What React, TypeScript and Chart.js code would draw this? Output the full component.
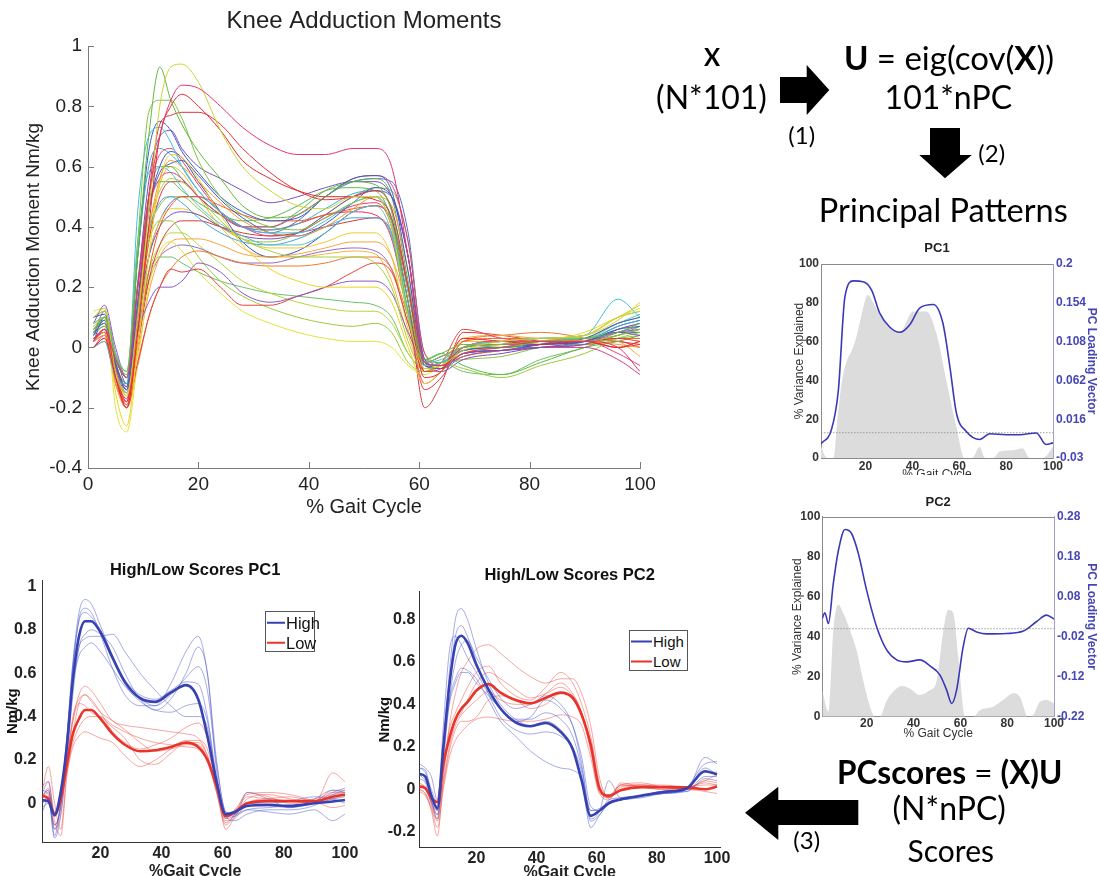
import React, { useEffect, useRef } from "react";
import { Chart, registerables } from "chart.js";

Chart.register(...registerables);
Chart.defaults.font.family = "'Liberation Sans', Arial, Helvetica, sans-serif";
Chart.defaults.color = "#222";

// ---------------- DATA ----------------
// shared % gait-cycle knots for the moment curves
const gaitKnots = [1, 3, 5, 7, 9, 11, 13, 15, 17, 20, 24, 28, 33, 38, 43, 48, 52, 55, 58, 61, 64, 68, 75, 82, 90, 96, 100];

// Knee adduction moment curves (Nm/kg), one row per subject
const kamCurves: number[][] = [
  [0.02, 0.06, -0.04, -0.1, 0.2, 0.5, 0.7, 0.82, 0.87, 0.86, 0.8, 0.73, 0.67, 0.64, 0.64, 0.66, 0.66, 0.6, 0.3, -0.05, -0.06, -0.02, 0.0, 0.02, 0.02, 0.0, -0.08],
  [0.1, 0.13, -0.08, -0.16, 0.1, 0.45, 0.8, 0.93, 0.94, 0.88, 0.72, 0.6, 0.52, 0.47, 0.46, 0.5, 0.5, 0.4, 0.1, -0.07, -0.06, -0.01, 0.02, 0.03, 0.04, 0.1, 0.14],
  [0.05, 0.1, -0.04, -0.09, 0.3, 0.7, 0.93, 0.82, 0.74, 0.65, 0.56, 0.47, 0.43, 0.44, 0.5, 0.55, 0.54, 0.45, 0.15, -0.04, -0.02, 0.01, 0.0, 0.02, 0.03, 0.05, 0.08],
  [0.0, 0.03, -0.1, -0.2, 0.05, 0.4, 0.7, 0.8, 0.84, 0.8, 0.72, 0.62, 0.56, 0.52, 0.5, 0.5, 0.49, 0.43, 0.15, -0.1, -0.08, 0.03, 0.02, 0.01, 0.02, 0.0, 0.02],
  [0.06, 0.1, -0.03, -0.08, 0.35, 0.78, 0.82, 0.82, 0.76, 0.62, 0.5, 0.44, 0.4, 0.39, 0.43, 0.48, 0.5, 0.4, 0.1, -0.05, -0.03, 0.0, 0.01, 0.02, 0.02, 0.04, 0.06],
  [0.03, 0.06, -0.08, -0.18, 0.1, 0.5, 0.74, 0.77, 0.78, 0.78, 0.74, 0.66, 0.58, 0.52, 0.49, 0.5, 0.52, 0.46, 0.2, -0.08, -0.07, 0.0, 0.01, 0.02, 0.02, 0.03, 0.02],
  [0.0, 0.02, -0.1, -0.12, 0.45, 0.7, 0.73, 0.68, 0.6, 0.52, 0.45, 0.4, 0.38, 0.38, 0.42, 0.48, 0.5, 0.42, 0.12, -0.06, -0.05, 0.0, 0.02, 0.03, 0.04, 0.16, 0.1],
  [0.1, 0.11, -0.05, -0.13, 0.3, 0.65, 0.75, 0.72, 0.65, 0.58, 0.5, 0.45, 0.42, 0.43, 0.5, 0.56, 0.57, 0.52, 0.25, -0.05, -0.06, -0.01, 0.0, 0.01, 0.02, 0.06, 0.07],
  [0.05, 0.08, -0.06, -0.14, 0.2, 0.55, 0.7, 0.72, 0.66, 0.6, 0.56, 0.52, 0.48, 0.5, 0.53, 0.55, 0.55, 0.5, 0.3, -0.04, -0.07, -0.02, -0.01, 0.0, 0.02, 0.05, 0.04],
  [0.02, 0.05, -0.08, -0.16, 0.08, 0.38, 0.56, 0.62, 0.6, 0.55, 0.48, 0.42, 0.38, 0.37, 0.4, 0.46, 0.5, 0.47, 0.25, -0.05, -0.06, 0.0, 0.02, 0.03, 0.02, 0.01, 0.0],
  [0.07, 0.1, -0.15, -0.26, 0.0, 0.3, 0.55, 0.64, 0.63, 0.56, 0.44, 0.34, 0.26, 0.22, 0.2, 0.2, 0.2, 0.15, 0.0, -0.12, -0.08, -0.02, 0.0, 0.02, 0.05, 0.1, 0.12],
  [0.02, 0.06, -0.07, -0.13, 0.2, 0.46, 0.56, 0.58, 0.56, 0.5, 0.44, 0.4, 0.4, 0.44, 0.5, 0.56, 0.57, 0.54, 0.35, -0.02, -0.06, -0.03, -0.01, 0.0, 0.0, -0.04, -0.09],
  [0.04, 0.09, -0.06, -0.14, 0.15, 0.45, 0.58, 0.61, 0.62, 0.57, 0.49, 0.43, 0.38, 0.37, 0.41, 0.48, 0.53, 0.5, 0.3, -0.06, -0.07, -0.02, -0.01, 0.01, 0.03, 0.08, 0.1],
  [0.08, 0.1, -0.02, -0.08, 0.35, 0.58, 0.6, 0.58, 0.53, 0.47, 0.41, 0.37, 0.34, 0.34, 0.38, 0.45, 0.47, 0.38, 0.1, -0.05, -0.04, 0.0, 0.02, 0.03, 0.03, 0.08, 0.11],
  [0.05, 0.08, -0.08, -0.15, 0.1, 0.4, 0.52, 0.56, 0.55, 0.5, 0.42, 0.36, 0.32, 0.3, 0.3, 0.3, 0.28, 0.2, 0.02, -0.08, -0.06, -0.02, 0.0, 0.02, 0.03, 0.08, 0.1],
  [0.0, 0.03, -0.1, -0.18, 0.02, 0.25, 0.4, 0.47, 0.5, 0.5, 0.47, 0.44, 0.42, 0.42, 0.44, 0.46, 0.47, 0.42, 0.2, -0.06, -0.07, 0.02, 0.03, 0.03, 0.02, 0.03, 0.03],
  [0.06, 0.09, -0.04, -0.1, 0.22, 0.48, 0.55, 0.55, 0.52, 0.48, 0.44, 0.42, 0.43, 0.47, 0.52, 0.53, 0.52, 0.42, 0.12, -0.04, -0.02, -0.06, -0.09, -0.05, 0.0, 0.02, 0.04],
  [0.08, 0.14, 0.0, -0.1, 0.05, 0.15, 0.2, 0.2, 0.22, 0.28, 0.25, 0.18, 0.15, 0.17, 0.2, 0.22, 0.22, 0.18, 0.05, -0.05, -0.03, 0.0, 0.01, 0.01, 0.02, 0.05, 0.06],
  [0.03, 0.05, -0.1, -0.2, -0.05, 0.1, 0.2, 0.26, 0.25, 0.26, 0.2, 0.14, 0.14, 0.17, 0.2, 0.25, 0.28, 0.25, 0.08, -0.08, -0.05, 0.06, 0.03, 0.02, 0.02, 0.0, 0.01],
  [0.1, 0.12, -0.02, -0.08, 0.15, 0.35, 0.42, 0.42, 0.38, 0.3, 0.22, 0.17, 0.13, 0.1, 0.08, 0.07, 0.08, 0.05, -0.05, -0.08, -0.05, -0.07, -0.1, -0.06, -0.02, 0.03, 0.05],
  [0.12, 0.13, -0.2, -0.28, -0.05, 0.2, 0.32, 0.35, 0.32, 0.25, 0.18, 0.12, 0.08, 0.05, 0.03, 0.02, 0.02, 0.0, -0.06, -0.09, -0.06, -0.03, -0.01, 0.02, 0.04, 0.1, 0.13],
  [0.04, 0.12, -0.02, -0.12, 0.1, 0.3, 0.4, 0.44, 0.45, 0.44, 0.4, 0.37, 0.36, 0.38, 0.44, 0.5, 0.52, 0.5, 0.3, -0.05, -0.08, -0.04, -0.02, 0.0, 0.01, 0.06, 0.08],
  [0.02, 0.04, -0.12, -0.2, -0.02, 0.18, 0.3, 0.35, 0.36, 0.36, 0.34, 0.31, 0.3, 0.31, 0.33, 0.35, 0.35, 0.3, 0.12, -0.06, -0.05, 0.03, 0.04, 0.03, 0.03, 0.02, -0.03],
  [0.03, 0.05, -0.1, -0.15, 0.12, 0.38, 0.48, 0.5, 0.48, 0.43, 0.38, 0.35, 0.34, 0.36, 0.4, 0.43, 0.43, 0.37, 0.12, -0.06, -0.05, -0.01, 0.0, 0.0, 0.02, 0.07, 0.09],
  [0.0, 0.04, -0.12, -0.18, 0.15, 0.5, 0.64, 0.66, 0.62, 0.54, 0.45, 0.4, 0.37, 0.38, 0.43, 0.47, 0.48, 0.4, 0.1, -0.12, -0.08, 0.0, 0.02, 0.02, 0.02, -0.02, -0.06],
  [0.05, 0.07, -0.06, -0.12, 0.2, 0.5, 0.6, 0.6, 0.56, 0.5, 0.44, 0.4, 0.4, 0.45, 0.52, 0.55, 0.56, 0.5, 0.22, -0.04, -0.05, -0.01, 0.0, 0.01, 0.02, 0.04, 0.07],
  [0.1, 0.12, -0.05, -0.12, 0.08, 0.3, 0.42, 0.46, 0.46, 0.44, 0.4, 0.36, 0.33, 0.33, 0.35, 0.38, 0.38, 0.3, 0.06, -0.07, -0.05, -0.01, 0.01, 0.03, 0.04, 0.09, 0.15],
  [0.02, 0.1, -0.05, -0.14, 0.12, 0.45, 0.6, 0.65, 0.63, 0.55, 0.45, 0.35, 0.3, 0.32, 0.38, 0.45, 0.47, 0.42, 0.2, -0.05, -0.07, -0.02, -0.01, 0.01, 0.02, 0.05, 0.05],
  [0.0, 0.02, -0.12, -0.2, -0.06, 0.1, 0.2, 0.26, 0.3, 0.32, 0.3, 0.28, 0.27, 0.27, 0.28, 0.3, 0.3, 0.26, 0.1, -0.07, -0.07, 0.02, 0.04, 0.05, 0.03, 0.0, 0.02],
  [0.06, 0.08, -0.04, -0.1, 0.3, 0.6, 0.66, 0.64, 0.6, 0.52, 0.45, 0.4, 0.39, 0.41, 0.46, 0.51, 0.52, 0.46, 0.18, -0.05, -0.03, 0.0, 0.01, 0.03, 0.04, 0.1, 0.12],
  [0.04, 0.07, -0.06, -0.12, 0.12, 0.38, 0.47, 0.5, 0.5, 0.46, 0.4, 0.36, 0.35, 0.38, 0.44, 0.5, 0.53, 0.52, 0.35, -0.02, -0.05, -0.04, -0.03, 0.0, 0.01, 0.03, 0.04],
  [0.02, 0.04, -0.1, -0.19, 0.0, 0.22, 0.34, 0.4, 0.42, 0.42, 0.4, 0.38, 0.37, 0.38, 0.4, 0.42, 0.43, 0.38, 0.15, -0.2, -0.12, 0.05, 0.04, 0.02, 0.01, 0.02, 0.0],
  [0.06, 0.1, -0.02, -0.1, 0.06, 0.22, 0.3, 0.33, 0.34, 0.33, 0.3, 0.28, 0.28, 0.3, 0.32, 0.33, 0.32, 0.26, 0.08, -0.06, -0.06, -0.02, -0.01, 0.0, 0.01, 0.05, 0.07],
  [0.08, 0.1, -0.08, -0.15, 0.05, 0.25, 0.34, 0.38, 0.38, 0.34, 0.28, 0.22, 0.18, 0.15, 0.13, 0.12, 0.12, 0.08, -0.02, -0.07, -0.05, -0.01, 0.0, 0.02, 0.03, 0.06, 0.08],
  [0.03, 0.05, -0.1, -0.17, 0.08, 0.35, 0.5, 0.55, 0.55, 0.5, 0.44, 0.4, 0.39, 0.41, 0.44, 0.45, 0.44, 0.36, 0.1, -0.14, -0.1, 0.0, 0.02, 0.02, 0.03, 0.02, 0.01],
  [0.03, 0.06, -0.07, -0.15, 0.06, 0.3, 0.42, 0.48, 0.5, 0.5, 0.45, 0.4, 0.38, 0.42, 0.5, 0.55, 0.56, 0.55, 0.38, -0.04, -0.07, -0.03, -0.01, 0.01, 0.02, 0.07, 0.09],
  [0.05, 0.08, -0.12, -0.2, 0.05, 0.35, 0.54, 0.6, 0.58, 0.5, 0.4, 0.33, 0.3, 0.3, 0.31, 0.32, 0.31, 0.22, 0.04, -0.08, -0.06, 0.02, 0.02, 0.03, 0.03, 0.04, 0.06],
  [0.07, 0.1, -0.03, -0.1, 0.1, 0.25, 0.3, 0.3, 0.28, 0.25, 0.22, 0.2, 0.18, 0.17, 0.16, 0.15, 0.14, 0.1, -0.02, -0.07, -0.05, -0.08, -0.09, -0.04, 0.0, 0.04, 0.06],
];
const kamColors = [
  "#e8336b", "#c9d42f", "#62b83c", "#e8262a", "#7fc242", "#e3343c", "#40bfe0", "#3a5bc7",
  "#7c4db8", "#f29a2e", "#f0d21e", "#d63d8a", "#3a5bc7", "#5cc0c0", "#a6cf3d", "#ee5a24",
  "#5fb847", "#8a58c4", "#e84040", "#9ccb3b", "#e2e23a", "#7b4fb8", "#f7a440", "#42a5e0",
  "#e83e7a", "#58b850", "#f0c830", "#3b4fc0", "#ec7a2a", "#36b0d0", "#8bc43f", "#d0403a",
  "#9467c9", "#b5d93a", "#e9314f", "#4a6fd0", "#f5b833", "#6cc06a",
];
const kamXTicks = [0, 20, 40, 60, 80, 100];
const kamYTicks = [-0.4, -0.2, 0, 0.2, 0.4, 0.6, 0.8, 1];

// PC1 principal pattern
const pc1LoadX = [1, 5.5, 8.4, 11.2, 14.8, 19, 22.6, 26, 30.4, 34.7, 38.9, 43.2, 48.9, 53, 56, 58.8, 63, 68.7, 73, 80, 85.8, 92.9, 97, 100];
const pc1Load = [-0.013, 0.004, 0.05, 0.161, 0.18, 0.179, 0.169, 0.142, 0.125, 0.119, 0.128, 0.148, 0.152, 0.13, 0.078, 0.023, 0.0015, -0.008, -0.0013, -0.0024, -0.0024, -0.0003, -0.014, -0.012];
const pc1VarX = [1, 3.5, 6.3, 8, 10, 12, 14, 16, 18, 21, 23.3, 26, 30.4, 34.7, 40.3, 46, 50.3, 54.5, 58.8, 62.3, 65.5, 68.7, 71, 74.4, 77.3, 83, 87, 90, 95.7, 100];
const pc1Var = [6, 0, 0, 20, 40, 50, 55, 62, 72, 84, 80, 73.8, 67.4, 65, 75.5, 75.5, 64, 40, 16, 0, 0, 5.7, 0, 0, 3.4, 4, 5, 0, 0, 5.7];
const pc1RightTicks = [-0.03, 0.016, 0.062, 0.108, 0.154, 0.2];

// PC2 principal pattern
const pc2LoadX = [1, 2.1, 3.6, 5.7, 7.8, 10.7, 13.5, 16.4, 19.9, 24.2, 28.5, 32.8, 37, 42.7, 47, 51.3, 54.1, 56.3, 58.4, 61.2, 63.4, 66.9, 71.2, 79.7, 86.9, 92.6, 96.8, 100];
const pc2Load = [0.026, 0.04, 0.013, 0.113, 0.193, 0.248, 0.238, 0.188, 0.097, 0.005, -0.053, -0.078, -0.083, -0.078, -0.093, -0.116, -0.153, -0.187, -0.153, -0.045, 0.001, -0.008, -0.013, -0.012, -0.006, 0.018, 0.034, 0.024];
const pc2VarX = [1, 2.6, 3.6, 5.7, 7.8, 10, 12.8, 15.7, 18.5, 21.4, 23.5, 25.6, 28.5, 32, 34.9, 38.5, 42.7, 47, 49.8, 52.7, 54.8, 57, 59.1, 62, 65.5, 68.4, 74, 78.3, 82.6, 85.4, 89, 91.1, 94, 96.8, 100];
const pc2Var = [13.3, 5, 2.5, 43, 56, 51.7, 43.3, 33, 18, 5, 0, 0, 8, 13.3, 15.3, 14, 10.8, 13.3, 17.5, 43, 53.3, 51.7, 30, 0, 0, 3.3, 5, 8.3, 11.7, 10, 0, 0.8, 7.5, 8.3, 6.7];
const pc2RightTicks = [-0.22, -0.12, -0.02, 0.08, 0.18, 0.28];

const pcLeftTicks = [0, 20, 40, 60, 80, 100];
const pcXTicks = [20, 40, 60, 80, 100];

// High / Low score groups, PC1
const hiPc1Mean = [0.015, 0.008, -0.054, 0.05, 0.26, 0.57, 0.77, 0.84, 0.84, 0.79, 0.67, 0.56, 0.485, 0.468, 0.51, 0.545, 0.48, 0.31, 0.1, -0.05, -0.04, -0.012, -0.008, -0.012, 0.0, 0.008, 0.015];
const loPc1Mean = [0.035, 0.02, -0.05, 0.02, 0.18, 0.32, 0.39, 0.43, 0.43, 0.39, 0.32, 0.27, 0.24, 0.245, 0.26, 0.28, 0.26, 0.2, 0.08, -0.06, -0.04, 0.0, 0.01, 0.01, 0.01, 0.03, 0.04];
const hiPc1Trials: number[][] = [
  [0.05, 0.1, -0.06, 0.02, 0.3, 0.65, 0.88, 0.94, 0.92, 0.82, 0.68, 0.57, 0.5, 0.48, 0.52, 0.56, 0.55, 0.4, 0.12, -0.05, -0.04, 0.0, -0.01, -0.02, 0.0, 0.02, 0.03],
  [-0.02, 0.0, -0.1, -0.02, 0.28, 0.62, 0.85, 0.9, 0.88, 0.78, 0.62, 0.5, 0.45, 0.45, 0.55, 0.7, 0.77, 0.6, 0.2, -0.04, -0.05, -0.03, -0.04, -0.05, -0.03, -0.08, -0.05],
  [0.0, 0.03, -0.15, 0.0, 0.22, 0.55, 0.72, 0.76, 0.77, 0.77, 0.78, 0.7, 0.6, 0.52, 0.45, 0.4, 0.4, 0.35, 0.1, -0.07, -0.06, -0.03, -0.02, -0.01, 0.0, 0.05, 0.07],
  [0.03, 0.06, -0.06, 0.04, 0.25, 0.55, 0.68, 0.72, 0.74, 0.7, 0.62, 0.54, 0.48, 0.45, 0.5, 0.58, 0.63, 0.52, 0.18, -0.04, -0.06, 0.05, 0.02, -0.02, 0.02, 0.06, 0.05],
  [0.06, 0.04, -0.12, 0.0, 0.3, 0.64, 0.84, 0.88, 0.86, 0.8, 0.68, 0.55, 0.47, 0.43, 0.42, 0.45, 0.46, 0.38, 0.1, -0.06, -0.08, -0.05, -0.03, -0.03, -0.01, 0.04, 0.06],
  [-0.04, 0.02, -0.16, -0.06, 0.2, 0.5, 0.72, 0.78, 0.8, 0.78, 0.72, 0.6, 0.48, 0.43, 0.48, 0.6, 0.72, 0.6, 0.15, -0.06, -0.05, 0.0, 0.0, 0.01, 0.03, 0.02, 0.0],
];
const loPc1Trials: number[][] = [
  [0.06, 0.17, 0.0, -0.12, 0.15, 0.38, 0.5, 0.54, 0.52, 0.46, 0.38, 0.36, 0.35, 0.34, 0.33, 0.32, 0.3, 0.22, 0.05, -0.1, -0.05, 0.03, 0.02, 0.01, 0.0, 0.14, 0.1],
  [0.02, 0.05, -0.08, -0.15, 0.12, 0.32, 0.46, 0.5, 0.48, 0.42, 0.33, 0.28, 0.25, 0.27, 0.3, 0.35, 0.37, 0.3, 0.1, -0.12, -0.06, 0.02, 0.04, 0.02, 0.0, 0.02, 0.04],
  [0.04, 0.06, -0.1, -0.02, 0.2, 0.38, 0.46, 0.45, 0.42, 0.4, 0.35, 0.3, 0.2, 0.18, 0.23, 0.28, 0.28, 0.22, 0.08, -0.07, -0.03, 0.0, 0.02, 0.03, 0.01, 0.06, 0.06],
  [0.0, 0.03, -0.06, 0.0, 0.15, 0.28, 0.35, 0.39, 0.4, 0.4, 0.36, 0.33, 0.3, 0.28, 0.27, 0.26, 0.25, 0.2, 0.06, -0.06, -0.03, 0.04, 0.05, 0.04, 0.01, -0.02, -0.01],
  [0.08, 0.1, -0.04, 0.02, 0.14, 0.26, 0.31, 0.33, 0.32, 0.3, 0.28, 0.22, 0.17, 0.2, 0.25, 0.29, 0.29, 0.25, 0.08, -0.08, -0.07, 0.0, 0.02, 0.01, 0.02, 0.04, 0.05],
  [0.03, 0.07, -0.12, -0.05, 0.18, 0.4, 0.48, 0.5, 0.47, 0.42, 0.38, 0.34, 0.28, 0.24, 0.25, 0.27, 0.27, 0.2, 0.05, -0.09, -0.05, 0.05, 0.03, 0.0, 0.01, 0.05, 0.05],
];
const hlPc1YTicks = [0, 0.2, 0.4, 0.6, 0.8, 1];

// High / Low score groups, PC2
const hiPc2Mean = [0.072, 0.06, -0.03, -0.09, 0.2, 0.49, 0.68, 0.723, 0.69, 0.585, 0.47, 0.38, 0.315, 0.297, 0.312, 0.27, 0.19, 0.04, -0.125, -0.1, -0.066, -0.048, -0.03, -0.013, 0.005, 0.085, 0.07];
const loPc2Mean = [0.013, 0.005, -0.04, -0.06, 0.12, 0.24, 0.33, 0.38, 0.41, 0.465, 0.495, 0.455, 0.42, 0.405, 0.43, 0.455, 0.43, 0.35, 0.21, 0.0, -0.03, -0.005, 0.01, 0.01, 0.009, 0.0, 0.013];
const hiPc2Trials: number[][] = [
  [0.1, 0.09, -0.02, -0.1, 0.2, 0.55, 0.8, 0.85, 0.8, 0.66, 0.5, 0.4, 0.33, 0.3, 0.32, 0.28, 0.2, 0.08, -0.15, -0.12, -0.06, -0.05, -0.03, -0.01, 0.0, 0.15, 0.12],
  [0.08, 0.05, -0.05, -0.14, 0.15, 0.5, 0.72, 0.77, 0.72, 0.6, 0.45, 0.34, 0.28, 0.26, 0.27, 0.25, 0.19, 0.05, -0.18, -0.12, -0.07, -0.05, -0.03, -0.02, 0.0, 0.08, 0.08],
  [0.12, 0.1, 0.06, -0.05, 0.3, 0.65, 0.72, 0.68, 0.62, 0.55, 0.45, 0.38, 0.33, 0.33, 0.36, 0.33, 0.25, 0.1, -0.1, -0.1, -0.06, -0.04, -0.03, -0.02, 0.01, 0.12, 0.13],
  [0.05, 0.03, -0.06, -0.12, 0.12, 0.42, 0.6, 0.68, 0.7, 0.62, 0.52, 0.43, 0.38, 0.4, 0.44, 0.4, 0.3, 0.12, -0.14, -0.1, 0.04, -0.04, -0.03, -0.01, -0.01, 0.05, 0.04],
  [0.07, 0.04, -0.02, -0.08, 0.2, 0.42, 0.52, 0.57, 0.56, 0.52, 0.42, 0.32, 0.25, 0.18, 0.13, 0.1, 0.09, 0.05, -0.1, -0.09, -0.06, -0.05, -0.04, -0.02, -0.01, 0.06, 0.06],
  [0.1, 0.08, 0.0, -0.06, 0.18, 0.4, 0.5, 0.55, 0.55, 0.5, 0.44, 0.38, 0.32, 0.34, 0.42, 0.38, 0.3, 0.15, -0.08, -0.1, -0.05, -0.04, -0.03, -0.02, 0.0, 0.1, 0.07],
];
const loPc2Trials: number[][] = [
  [0.0, -0.02, -0.1, -0.22, 0.05, 0.3, 0.45, 0.55, 0.6, 0.66, 0.68, 0.64, 0.58, 0.53, 0.5, 0.52, 0.52, 0.45, 0.3, 0.05, -0.04, 0.0, 0.02, 0.02, 0.01, 0.03, 0.02],
  [0.03, 0.01, -0.05, -0.12, 0.1, 0.28, 0.36, 0.42, 0.48, 0.55, 0.58, 0.5, 0.44, 0.42, 0.48, 0.55, 0.5, 0.4, 0.25, 0.02, -0.04, 0.02, 0.02, 0.01, 0.0, -0.01, -0.02],
  [0.0, -0.02, -0.08, -0.15, 0.02, 0.18, 0.28, 0.32, 0.32, 0.34, 0.42, 0.44, 0.42, 0.38, 0.4, 0.45, 0.44, 0.36, 0.22, 0.0, -0.04, 0.01, 0.02, 0.01, 0.01, 0.04, 0.07],
  [0.02, 0.0, -0.06, -0.1, 0.04, 0.2, 0.3, 0.35, 0.38, 0.42, 0.46, 0.42, 0.4, 0.4, 0.45, 0.5, 0.45, 0.36, 0.18, -0.02, -0.05, 0.03, 0.01, 0.0, 0.0, 0.0, 0.01],
  [-0.01, -0.03, -0.09, -0.18, 0.0, 0.15, 0.23, 0.27, 0.3, 0.33, 0.34, 0.33, 0.32, 0.32, 0.33, 0.35, 0.34, 0.3, 0.15, -0.02, -0.03, 0.02, 0.01, 0.0, 0.01, 0.02, 0.02],
  [0.02, 0.01, -0.07, -0.14, 0.08, 0.25, 0.32, 0.36, 0.42, 0.5, 0.55, 0.52, 0.47, 0.43, 0.45, 0.48, 0.44, 0.36, 0.2, 0.0, -0.04, 0.02, 0.03, 0.01, 0.0, 0.04, 0.03],
];
const hlPc2YTicks = [-0.2, 0, 0.2, 0.4, 0.6, 0.8];
const hlXTicks = [20, 40, 60, 80, 100];

// ---------------- HELPERS ----------------
type Pt = { x: number; y: number };
const toPoints = (xs: number[], ys: number[]): Pt[] => xs.map((x, i) => ({ x, y: ys[i] }));
const fixTicks = (values: number[]) => (scale: any) => {
  scale.ticks = values.map((v) => ({ value: v }));
};
const fixWidth = (w: number) => (scale: any) => {
  scale.width = w;
};
const fixHeight = (h: number) => (scale: any) => {
  scale.height = h;
};
const fmt = (digits: number) => (v: any) => {
  const p = Math.pow(10, digits);
  return String(Math.round(Number(v) * p) / p);
};

const inwardTicks = {
  id: "inwardTicks",
  afterDraw(chart: any) {
    const { ctx, chartArea: a, scales } = chart;
    ctx.save();
    ctx.strokeStyle = "#7a7a7a";
    ctx.lineWidth = 1;
    scales.x.ticks.forEach((t: any) => {
      const px = Math.round(scales.x.getPixelForValue(t.value)) + 0.5;
      ctx.beginPath();
      ctx.moveTo(px, a.bottom);
      ctx.lineTo(px, a.bottom - 6);
      ctx.stroke();
    });
    scales.y.ticks.forEach((t: any) => {
      const py = Math.round(scales.y.getPixelForValue(t.value)) + 0.5;
      ctx.beginPath();
      ctx.moveTo(a.left, py);
      ctx.lineTo(a.left + 6, py);
      ctx.stroke();
    });
    ctx.restore();
  },
};

const topFrame = {
  id: "topFrame",
  afterDatasetsDraw(chart: any) {
    const { ctx, chartArea: a } = chart;
    ctx.save();
    ctx.strokeStyle = "#8a8a8a";
    ctx.lineWidth = 1;
    ctx.beginPath();
    ctx.moveTo(a.left, Math.round(a.top) + 0.5);
    ctx.lineTo(a.right, Math.round(a.top) + 0.5);
    ctx.stroke();
    ctx.restore();
  },
};

const baseOptions = {
  responsive: false,
  maintainAspectRatio: false,
  animation: false,
  events: [],
  elements: { point: { radius: 0 } },
};

// ---------------- CONFIGS ----------------
function kamConfig(): any {
  return {
    type: "line",
    data: {
      datasets: kamCurves.map((ys, i) => ({
        data: toPoints(gaitKnots, ys),
        borderColor: kamColors[i % kamColors.length],
        borderWidth: 1,
        pointRadius: 0,
        cubicInterpolationMode: "monotone",
        fill: false,
      })),
    },
    options: {
      ...baseOptions,
      layout: { padding: { left: 0, top: 0, right: 30, bottom: 0 } },
      plugins: {
        legend: { display: false },
        tooltip: { enabled: false },
        title: {
          display: true,
          text: "Knee Adduction Moments",
          fullSize: false,
          color: "#222",
          font: { size: 24, weight: "normal" },
          padding: { top: 6.6, bottom: 10.6 },
        },
      },
      scales: {
        x: {
          type: "linear",
          min: 0,
          max: 100,
          afterBuildTicks: fixTicks(kamXTicks),
          afterFit: fixHeight(62),
          grid: { display: false, drawTicks: false },
          border: { display: true, color: "#7a7a7a" },
          ticks: { font: { size: 19 }, color: "#222", padding: 5, autoSkip: false, maxRotation: 0, callback: fmt(0) },
          title: { display: true, text: "% Gait Cycle", color: "#222", font: { size: 20 }, padding: { top: 0, bottom: 11 } },
        },
        y: {
          type: "linear",
          min: -0.4,
          max: 1,
          afterBuildTicks: fixTicks(kamYTicks),
          afterFit: fixWidth(88),
          grid: { display: false, drawTicks: false },
          border: { display: true, color: "#7a7a7a" },
          ticks: { font: { size: 19 }, color: "#222", padding: 6, autoSkip: false, callback: fmt(1) },
          title: { display: true, text: "Knee Adduction Moment Nm/kg", color: "#222", font: { size: 19 }, padding: { top: 22, bottom: 0 } },
        },
      },
    },
    plugins: [inwardTicks],
  };
}

type PcSpec = {
  title: string;
  loadX: number[];
  load: number[];
  varX: number[];
  variance: number[];
  rMin: number;
  rMax: number;
  rTicks: number[];
  yWidth: number;
  y1Width: number;
  xHeight: number;
  titlePad: { top: number; bottom: number };
  yTitlePad: number;
  y1TitlePad: number;
  xTickPad: number;
  xTitlePad: number;
};

const PC_BLUE = "#4646b4";

function pcConfig(s: PcSpec): any {
  return {
    type: "line",
    data: {
      datasets: [
        {
          data: toPoints(s.loadX, s.load),
          yAxisID: "y1",
          borderColor: "#3a3ab8",
          borderWidth: 1.6,
          pointRadius: 0,
          cubicInterpolationMode: "monotone",
          fill: false,
          order: 0,
        },
        {
          data: [
            { x: 1, y: 0 },
            { x: 100, y: 0 },
          ],
          yAxisID: "y1",
          borderColor: "#8a8a8a",
          borderWidth: 0.8,
          borderDash: [1.5, 1.5],
          pointRadius: 0,
          fill: false,
          order: 1,
        },
        {
          data: toPoints(s.varX, s.variance),
          yAxisID: "y",
          borderColor: "rgba(0,0,0,0)",
          borderWidth: 0,
          backgroundColor: "#dcdcdc",
          pointRadius: 0,
          cubicInterpolationMode: "monotone",
          fill: "origin",
          order: 2,
        },
      ],
    },
    options: {
      ...baseOptions,
      layout: { padding: 0 },
      plugins: {
        legend: { display: false },
        tooltip: { enabled: false },
        title: {
          display: true,
          text: s.title,
          fullSize: false,
          color: "#222",
          font: { size: 13, weight: "bold" },
          padding: s.titlePad,
        },
      },
      scales: {
        x: {
          type: "linear",
          min: 1,
          max: 100,
          afterBuildTicks: fixTicks(pcXTicks),
          afterFit: fixHeight(s.xHeight),
          grid: { display: false, drawTicks: false },
          border: { display: true, color: "#8a8a8a" },
          ticks: { font: { size: 12, weight: "bold" }, color: "#333", padding: s.xTickPad, autoSkip: false, maxRotation: 0, callback: fmt(0) },
          title: { display: true, text: "% Gait Cycle", color: "#333", font: { size: 12 }, padding: { top: 0, bottom: s.xTitlePad } },
        },
        y: {
          type: "linear",
          position: "left",
          min: 0,
          max: 100,
          afterBuildTicks: fixTicks(pcLeftTicks),
          afterFit: fixWidth(s.yWidth),
          grid: { display: false, drawTicks: false },
          border: { display: true, color: "#8a8a8a" },
          ticks: { font: { size: 12, weight: "bold" }, color: "#333", padding: 2, autoSkip: false, callback: fmt(0) },
          title: { display: true, text: "% Variance Explained", color: "#333", font: { size: 12 }, padding: { top: s.yTitlePad, bottom: 0 } },
        },
        y1: {
          type: "linear",
          position: "right",
          min: s.rMin,
          max: s.rMax,
          afterBuildTicks: fixTicks(s.rTicks),
          afterFit: fixWidth(s.y1Width),
          grid: { display: false, drawTicks: false },
          border: { display: true, color: "#a0a0d8" },
          ticks: { font: { size: 12, weight: "bold" }, color: PC_BLUE, padding: 3, autoSkip: false, callback: fmt(3) },
          title: { display: true, text: "PC Loading Vector", color: PC_BLUE, font: { size: 12, weight: "bold" }, padding: { top: s.y1TitlePad, bottom: 0 } },
        },
      },
    },
    plugins: [topFrame],
  };
}

type HlSpec = {
  title: string;
  hiMean: number[];
  loMean: number[];
  hiTrials: number[][];
  loTrials: number[][];
  yMin: number;
  yMax: number;
  yTicks: number[];
  yWidth: number;
  xHeight: number;
  rightPad: number;
  titlePad: { top: number; bottom: number };
  yTitlePad: number;
  yTickPad: number;
  xTickPad: number;
  xTitlePad: number;
};

const HI_BLUE = "#3641b2";
const LO_RED = "#e8342a";

function hlConfig(s: HlSpec): any {
  const thin = (ys: number[], color: string) => ({
    data: toPoints(gaitKnots, ys),
    borderColor: color,
    borderWidth: 1,
    pointRadius: 0,
    cubicInterpolationMode: "monotone",
    fill: false,
    order: 2,
  });
  const thick = (ys: number[], color: string) => ({
    data: toPoints(gaitKnots, ys),
    borderColor: color,
    borderWidth: 2.6,
    pointRadius: 0,
    cubicInterpolationMode: "monotone",
    fill: false,
    order: 0,
  });
  return {
    type: "line",
    data: {
      datasets: [
        thick(s.hiMean, HI_BLUE),
        thick(s.loMean, LO_RED),
        ...s.hiTrials.map((t) => thin(t, "rgba(80,90,205,0.5)")),
        ...s.loTrials.map((t) => thin(t, "rgba(240,80,70,0.5)")),
      ],
    },
    options: {
      ...baseOptions,
      layout: { padding: { left: 0, top: 0, right: s.rightPad, bottom: 0 } },
      plugins: {
        legend: { display: false },
        tooltip: { enabled: false },
        title: {
          display: true,
          text: s.title,
          fullSize: false,
          color: "#111",
          font: { size: 16.5, weight: "bold" },
          padding: s.titlePad,
        },
      },
      scales: {
        x: {
          type: "linear",
          min: 1,
          max: 101,
          afterBuildTicks: fixTicks(hlXTicks),
          afterFit: fixHeight(s.xHeight),
          grid: { display: false, drawTicks: false },
          border: { display: true, color: "#333" },
          ticks: { font: { size: 16, weight: "bold" }, color: "#222", padding: s.xTickPad, autoSkip: false, maxRotation: 0, callback: fmt(0) },
          title: { display: true, text: "%Gait Cycle", color: "#222", font: { size: 16, weight: "bold" }, padding: { top: 0, bottom: s.xTitlePad } },
        },
        y: {
          type: "linear",
          min: s.yMin,
          max: s.yMax,
          afterBuildTicks: fixTicks(s.yTicks),
          afterFit: fixWidth(s.yWidth),
          grid: { display: false, drawTicks: false },
          border: { display: true, color: "#333" },
          ticks: { font: { size: 16, weight: "bold" }, color: "#222", padding: s.yTickPad, autoSkip: false, callback: fmt(1) },
          title: { display: true, text: "Nm/kg", color: "#111", font: { size: 15, weight: "bold" }, padding: { top: s.yTitlePad, bottom: 0 } },
        },
      },
    },
  };
}

// ---------------- COMPONENTS ----------------
function ChartBox(props: { left: number; top: number; width: number; height: number; clip?: number; build: () => any }) {
  const ref = useRef<HTMLCanvasElement | null>(null);
  useEffect(() => {
    if (!ref.current) return;
    const chart = new Chart(ref.current, props.build());
    return () => chart.destroy();
  }, []);
  return (
    <div
      style={{
        position: "absolute",
        left: props.left,
        top: props.top,
        width: props.width,
        height: props.clip ?? props.height,
        overflow: "hidden",
      }}
    >
      <canvas ref={ref} width={props.width} height={props.height} style={{ display: "block", width: props.width, height: props.height }} />
    </div>
  );
}

const SANS = "Lato, 'Open Sans', sans-serif";

function Txt(props: { x: number; y: number; size: number; bold?: boolean; children: React.ReactNode }) {
  return (
    <div
      style={{
        position: "absolute",
        left: props.x,
        top: props.y,
        transform: "translate(-50%, -50%)",
        fontFamily: SANS,
        fontSize: props.size,
        fontWeight: props.bold ? 700 : 400,
        lineHeight: 1,
        whiteSpace: "nowrap",
        color: "#000",
      }}
    >
      {props.children}
    </div>
  );
}

function Legend(props: { left: number; top: number; width: number; height: number; lineW: number; size: number; rows: { label: string; color: string; cy: number }[] }) {
  return (
    <div
      style={{
        position: "absolute",
        left: props.left,
        top: props.top,
        width: props.width,
        height: props.height,
        border: "1px solid #555",
        boxSizing: "border-box",
        background: "#fff",
      }}
    >
      {props.rows.map((r) => (
        <div key={r.label} style={{ position: "absolute", left: 1, top: r.cy - props.top, transform: "translateY(-50%)", display: "flex", alignItems: "center", whiteSpace: "nowrap" }}>
          <span style={{ display: "inline-block", width: props.lineW, height: 2, background: r.color }} />
          <span style={{ fontFamily: "'Liberation Sans', Arial, sans-serif", fontSize: props.size, lineHeight: 1, color: "#111", marginLeft: 1 }}>{r.label}</span>
        </div>
      ))}
    </div>
  );
}

export default function App() {
  return (
    <div style={{ position: "absolute", left: 0, top: 0, width: 1100, height: 876, overflow: "hidden", background: "#fff" }}>
      <ChartBox left={0} top={0} width={670} height={530} build={kamConfig} />

      <ChartBox
        left={780}
        top={238}
        width={320}
        height={252}
        clip={237}
        build={() =>
          pcConfig({
            title: "PC1",
            loadX: pc1LoadX,
            load: pc1Load,
            varX: pc1VarX,
            variance: pc1Var,
            rMin: -0.03,
            rMax: 0.2,
            rTicks: pc1RightTicks,
            yWidth: 41,
            y1Width: 47,
            xHeight: 32,
            titlePad: { top: 2.2, bottom: 8.2 },
            yTitlePad: 12.8,
            y1TitlePad: 1.1,
            xTickPad: 1.5,
            xTitlePad: 7.8,
          })
        }
      />
      <ChartBox
        left={780}
        top={490}
        width={320}
        height={255}
        build={() =>
          pcConfig({
            title: "PC2",
            loadX: pc2LoadX,
            load: pc2Load,
            varX: pc2VarX,
            variance: pc2Var,
            rMin: -0.22,
            rMax: 0.28,
            rTicks: pc2RightTicks,
            yWidth: 42.3,
            y1Width: 46,
            xHeight: 28.3,
            titlePad: { top: 4.9, bottom: 6.2 },
            yTitlePad: 10.8,
            y1TitlePad: 1.1,
            xTickPad: 0,
            xTitlePad: 3.8,
          })
        }
      />

      <ChartBox
        left={0}
        top={550}
        width={370}
        height={340}
        build={() =>
          hlConfig({
            title: "High/Low Scores PC1",
            hiMean: hiPc1Mean,
            loMean: loPc1Mean,
            hiTrials: hiPc1Trials,
            loTrials: loPc1Trials,
            yMin: -0.18,
            yMax: 1.03,
            yTicks: hlPc1YTicks,
            yWidth: 42.3,
            xHeight: 47.7,
            rightPad: 22,
            titlePad: { top: 10.1, bottom: 0.1 },
            yTitlePad: 4.3,
            yTickPad: 6,
            xTickPad: 1.4,
            xTitlePad: 8.7,
          })
        }
      />
      <ChartBox
        left={365}
        top={550}
        width={375}
        height={340}
        build={() =>
          hlConfig({
            title: "High/Low Scores PC2",
            hiMean: hiPc2Mean,
            loMean: loPc2Mean,
            hiTrials: hiPc2Trials,
            loTrials: loPc2Trials,
            yMin: -0.275,
            yMax: 0.93,
            yTicks: hlPc2YTicks,
            yWidth: 54.3,
            xHeight: 42.3,
            rightPad: 20,
            titlePad: { top: 15.1, bottom: 6.8 },
            yTitlePad: 11,
            yTickPad: 4,
            xTickPad: 1,
            xTitlePad: 7.4,
          })
        }
      />

      <Legend
        left={265}
        top={611}
        width={50}
        height={41}
        lineW={18}
        size={16.5}
        rows={[
          { label: "High", color: HI_BLUE, cy: 621.7 },
          { label: "Low", color: LO_RED, cy: 641.7 },
        ]}
      />
      <Legend
        left={629}
        top={630}
        width={59}
        height={41}
        lineW={21}
        size={15}
        rows={[
          { label: "High", color: HI_BLUE, cy: 640 },
          { label: "Low", color: LO_RED, cy: 660 },
        ]}
      />

      <svg width={1100} height={876} style={{ position: "absolute", left: 0, top: 0, pointerEvents: "none" }}>
        <polygon points="780,77 806.7,77 806.7,65 829.3,90 806.7,115 806.7,103 780,103" fill="#000" />
        <polygon points="930,128 960,128 960,155 971.7,155 945,178.3 919.3,155 930,155" fill="#000" />
        <polygon points="858.3,800 778.3,800 778.3,786.7 745,812.7 778.3,840 778.3,825 858.3,825" fill="#000" />
      </svg>

      <Txt x={712} y={57} size={24} bold>
        X
      </Txt>
      <Txt x={711.5} y={97} size={32}>
        (N*101)
      </Txt>
      <Txt x={801.7} y={135} size={24}>
        (1)
      </Txt>
      <Txt x={949} y={57} size={33}>
        <b>U</b> = eig(cov(<b>X</b>))
      </Txt>
      <Txt x={948.3} y={97} size={32}>
        101*nPC
      </Txt>
      <Txt x={991.7} y={153} size={24}>
        (2)
      </Txt>
      <Txt x={943.3} y={210} size={32.5}>
        Principal Patterns
      </Txt>
      <Txt x={949.7} y={773} size={31.5}>
        <b>PCscores</b> = <b>(X)U</b>
      </Txt>
      <Txt x={949.2} y={808} size={32}>
        (N*nPC)
      </Txt>
      <Txt x={950.8} y={850} size={30}>
        Scores
      </Txt>
      <Txt x={806.7} y={840} size={24}>
        (3)
      </Txt>
    </div>
  );
}
